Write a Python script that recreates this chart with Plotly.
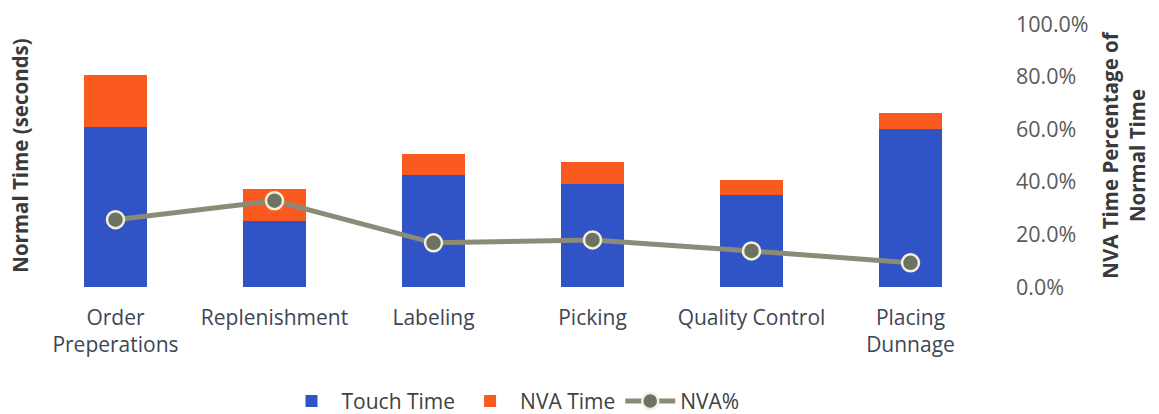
import plotly.graph_objects as go

categories = ["Order<br>Preperations", "Replenishment", "Labeling", "Picking",
              "Quality Control", "Placing<br>Dunnage"]
touch_time = [60.7, 25.2, 42.4, 39.3, 35.1, 59.9]
nva_time = [19.8, 12.2, 8.0, 8.4, 5.4, 6.1]
nva_pct = [0.256, 0.328, 0.168, 0.179, 0.137, 0.092]
pct_ticks = [0, 0.2, 0.4, 0.6, 0.8, 1.0]

FONT = "Open Sans"
BLUE = "#3053C6"
ORANGE = "#FA5A20"

fig = go.Figure()
fig.add_trace(go.Bar(x=categories, y=touch_time, name="Touch Time",
                     marker=dict(color=BLUE, line=dict(width=0))))
fig.add_trace(go.Bar(x=categories, y=nva_time, name="NVA Time",
                     marker=dict(color=ORANGE, line=dict(width=0))))
fig.add_trace(go.Scatter(x=categories, y=nva_pct, name="NVA%", yaxis="y2",
                         mode="lines+markers",
                         line=dict(color="#8C8B78", width=5),
                         marker=dict(size=17, color="#6E7263",
                                     line=dict(color="#F3F1DA", width=2.5))))

fig.update_layout(
    width=1159, height=414, autosize=False,
    margin=dict(l=36, r=169, t=24, b=127, autoexpand=False),
    paper_bgcolor="white", plot_bgcolor="white",
    barmode="stack", bargap=0.6,
    font=dict(family=FONT, color="#404040"),
    showlegend=True,
    legend=dict(orientation="h", x=0.5, xanchor="center", y=-0.435, yanchor="middle",
                font=dict(size=21, color="#404040"), itemwidth=50,
                traceorder="normal"),
    xaxis=dict(showgrid=False, showline=False, zeroline=False, ticks="",
               automargin=False,
               tickfont=dict(size=21, color="#3E4656"), ticklabelstandoff=16),
    yaxis=dict(range=[0, 100], showgrid=False, showticklabels=False,
               zeroline=False, showline=False, automargin=False,
               title=dict(text="Normal Time (seconds)", standoff=0,
                          font=dict(size=20.5, color="#3A3A3A", weight="bold"))),
    yaxis2=dict(range=[0, 1], overlaying="y", side="right", showgrid=False,
                zeroline=False, showline=False, tickvals=pct_ticks, automargin=False,
                tickformat=".1%", ticklabelstandoff=25,
                tickfont=dict(size=21.5, color="#5A5A5A"),
                title=dict(text="NVA Time Percentage of<br>Normal Time", standoff=16,
                           font=dict(size=20.5, color="#3A3A3A", weight="bold"))),
)

fig.write_html("out.html")
